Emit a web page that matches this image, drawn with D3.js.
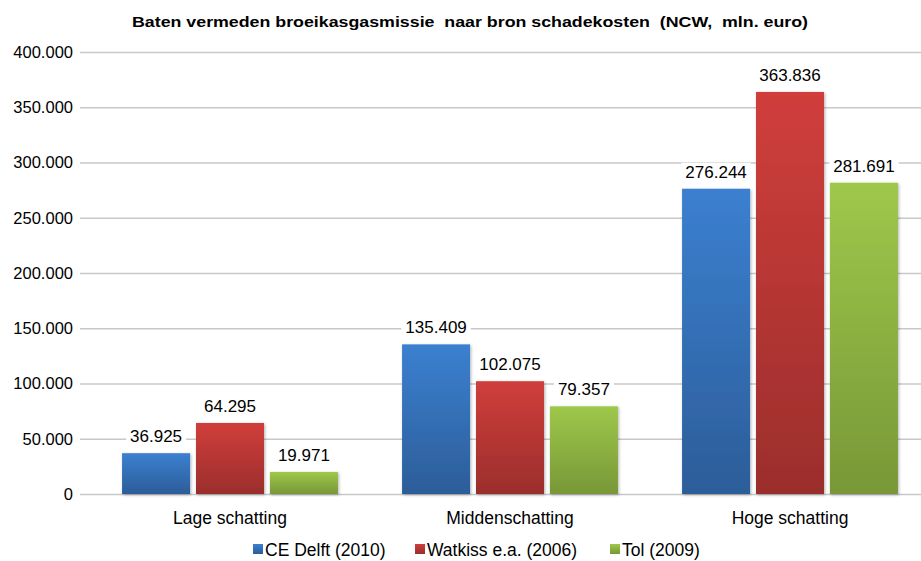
<!DOCTYPE html>
<html><head><meta charset="utf-8">
<script src="https://cdn.jsdelivr.net/npm/d3@7"></script>
<style>body{margin:0;background:#fff}svg{display:block;font-family:"Liberation Sans",Arial,sans-serif}</style>
</head><body>
<svg id="c" width="921" height="561"></svg>
<script>
const categories = ["Lage schatting", "Middenschatting", "Hoge schatting"];
const seriesNames = ["CE Delft (2010)", "Watkiss e.a. (2006)", "Tol (2009)"];
const ceDelft = [36925, 135409, 276244];
const watkiss = [64295, 102075, 363836];
const tol = [19971, 79357, 281691];
const yTicks = [0, 50000, 100000, 150000, 200000, 250000, 300000, 350000, 400000];
const seriesValues = [ceDelft, watkiss, tol];
const colors = [["#3b80d0", "#2c5d99"], ["#d03e3b", "#9b2e2c"], ["#9ec84b", "#789737"]];

const svg = d3.select("#c");
const fmt = v => v === 0 ? "0" : d3.format(",.0f")(v).replace(/,/g, ".");
const x = d3.scaleBand().domain(categories).range([90, 930]).paddingInner(0.229).paddingOuter(0.1145);
const x1 = d3.scaleBand().domain(seriesNames).range([0, x.bandwidth()]).paddingInner(0.08);
const y = d3.scaleLinear().domain([0, 400000]).range([494, 52]);

const defs = svg.append("defs");
colors.forEach((c, i) => {
  const g = defs.append("linearGradient").attr("id", "g" + i).attr("x1", 0).attr("y1", 0).attr("x2", 0).attr("y2", 1);
  g.append("stop").attr("offset", 0).attr("stop-color", c[0]);
  g.append("stop").attr("offset", 1).attr("stop-color", c[1]);
});
const f = defs.append("filter").attr("id", "sh").attr("x", -0.2).attr("y", -0.1).attr("width", 1.4).attr("height", 1.2);
f.append("feDropShadow").attr("dx", 1).attr("dy", 1).attr("stdDeviation", 1.5).attr("flood-color", "#000").attr("flood-opacity", 0.3);

// title
svg.append("text").attr("x", 132).attr("y", 27)
  .attr("font-size", 15).attr("font-weight", "bold").attr("fill", "#000")
  .style("white-space", "pre")
  .attr("textLength", 676).attr("lengthAdjust", "spacingAndGlyphs")
  .text("Baten vermeden broeikasgasmissie  naar bron schadekosten  (NCW,  mln. euro)");

// grid + y axis
const yAxis = d3.axisLeft(y).tickValues(yTicks).tickFormat(fmt).tickSize(-(921 - 90)).tickPadding(12);
const ga = svg.append("g").attr("transform", "translate(90,0)").call(yAxis);
ga.select(".domain").remove();
ga.selectAll(".tick line").attr("stroke", "#c8c8c8").attr("stroke-width", 1.3).attr("x1", -10);
ga.selectAll(".tick text").attr("font-size", 16.5).attr("fill", "#000").attr("font-family", '"Liberation Sans",Arial,sans-serif').attr("x", -17);

// bars
const grp = svg.append("g").selectAll("g").data(categories).join("g")
  .attr("transform", d => `translate(${x(d)},0)`);
seriesNames.forEach((s, si) => {
  grp.append("rect")
    .attr("x", x1(s)).attr("width", x1.bandwidth())
    .attr("y", (d, ci) => y(seriesValues[si][ci]))
    .attr("height", (d, ci) => y(0) - y(seriesValues[si][ci]))
    .attr("fill", `url(#g${si})`).attr("filter", "url(#sh)");
});
seriesNames.forEach((s, si) => {
  grp.each(function (d, ci) {
    const g = d3.select(this);
    const v = seriesValues[si][ci];
    const cx = x1(s) + x1.bandwidth() / 2;
    const t = g.append("text").attr("x", cx).attr("y", y(v) - 11).attr("text-anchor", "middle")
      .attr("font-size", 17).attr("fill", "#000").text(fmt(v));
    const bb = t.node().getBBox();
    g.insert("rect", "text").attr("x", bb.x - 4).attr("y", bb.y).attr("width", bb.width + 8).attr("height", bb.height).attr("fill", "#fff");
  });
});

// x axis labels
svg.append("g").selectAll("text").data(categories).join("text")
  .attr("x", d => x(d) + x.bandwidth() / 2).attr("y", 524).attr("text-anchor", "middle")
  .attr("font-size", 17.5).attr("fill", "#000").text(d => d);

// legend
const legX = [253, 415, 610];
const lg = svg.append("g").selectAll("g").data(seriesNames).join("g")
  .attr("transform", (d, i) => `translate(${legX[i]},0)`);
lg.append("rect").attr("x", 0).attr("y", 544).attr("width", 10).attr("height", 10).attr("fill", (d, i) => `url(#g${i})`);
lg.append("text").attr("x", 12).attr("y", 556).attr("font-size", 17.5).attr("fill", "#000").text(d => d);
</script>
</body></html>
